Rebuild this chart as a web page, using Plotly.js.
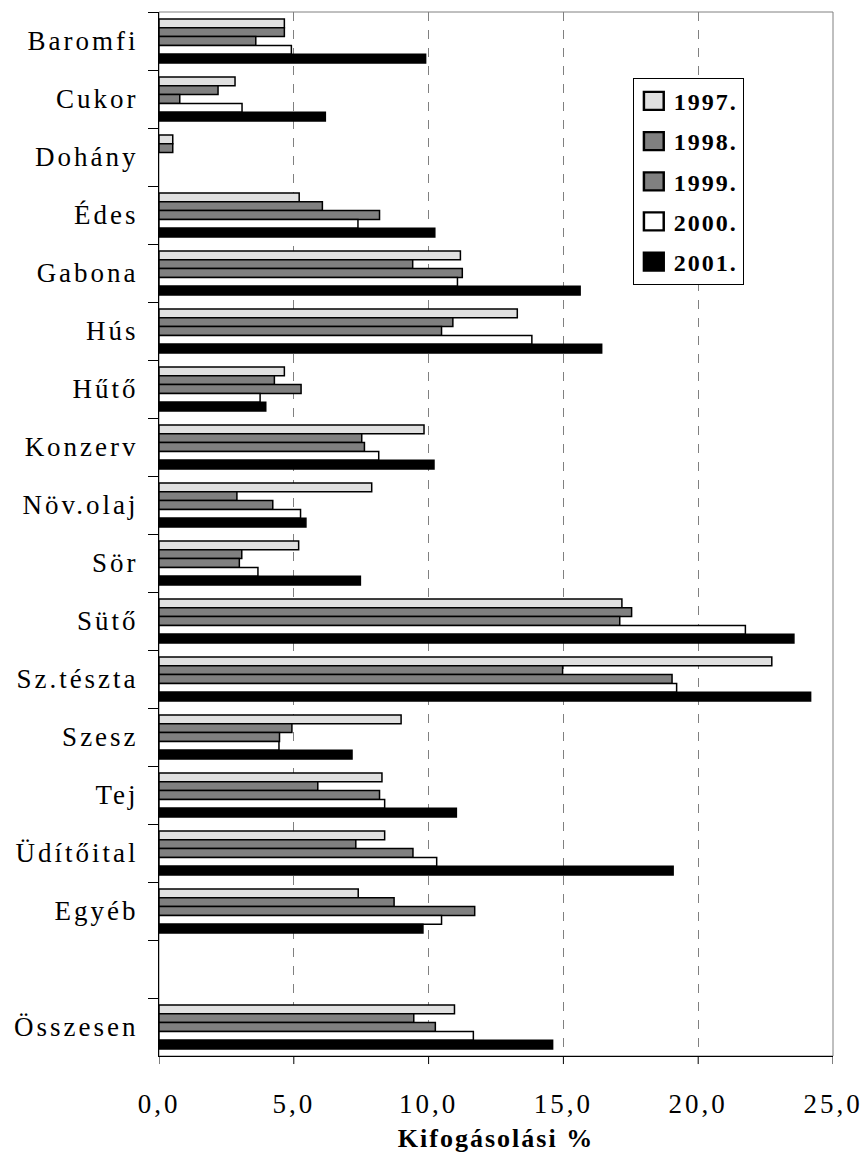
<!DOCTYPE html>
<html>
<head>
<meta charset="utf-8">
<script src="https://cdn.plot.ly/plotly-3.0.1.min.js"></script>
<style>
html, body { margin: 0; padding: 0; background: #fff; }
.ytick text, .xtick text { letter-spacing: 3px; }
.legendtext { letter-spacing: 2px; }
.xtitle { letter-spacing: 2px; }
</style>
</head>
<body>
<div id="chart" style="width:863px;height:1154px;"></div>
<script>
// Categories (top to bottom); " " is the empty slot before the total
var categories = ["Baromfi", "Cukor", "Dohány", "Édes", "Gabona", "Hús", "Hűtő", "Konzerv",
  "Növ.olaj", "Sör", "Sütő", "Sz.tészta", "Szesz", "Tej", "Üdítőital", "Egyéb", " ", "Összesen"];

var seriesNames = ["1997.", "1998.", "1999.", "2000.", "2001."];

var v1997 = [4.65, 2.82, 0.51, 5.20, 11.18, 13.29, 4.65, 9.83, 7.89, 5.18, 17.17, 22.73, 8.98, 8.27, 8.37, 7.39, null, 10.96];
var v1998 = [4.65, 2.19, 0.51, 6.06, 9.41, 10.90, 4.28, 7.52, 2.89, 3.07, 17.53, 14.97, 4.93, 5.89, 7.30, 8.72, null, 9.45];
var v1999 = [3.59, 0.77, null, 8.18, 11.25, 10.48, 5.27, 7.62, 4.22, 2.98, 17.09, 19.03, 4.47, 8.18, 9.42, 11.71, null, 10.25];
var v2000 = [4.91, 3.08, null, 7.38, 11.07, 13.83, 3.75, 8.15, 5.25, 3.67, 21.75, 19.20, 4.45, 8.37, 10.30, 10.48, null, 11.66];
var v2001 = [9.89, 6.17, null, 10.23, 15.62, 16.42, 3.96, 10.20, 5.45, 7.47, 23.55, 24.17, 7.16, 11.03, 19.07, 9.79, null, 14.60];

var xTickVals = [0, 5, 10, 15, 20, 25];

var seriesValues = [v1997, v1998, v1999, v2000, v2001];
var seriesColors = ["#e0e0e0", "#808080", "#808080", "#ffffff", "#000000"];

var traces = seriesValues.map(function (vals, i) {
  return {
    type: "bar",
    orientation: "h",
    name: "<b>" + seriesNames[i] + "</b>",
    legendgroup: "g" + i,
    y: categories,
    x: vals,
    marker: { color: seriesColors[i], line: { color: "#000000", width: 1.5 } },
    hoverinfo: "x+y+name"
  };
});

// plot frame (gray) plus short visible x tick marks at the tick values
var shapes = [{
  type: "rect", xref: "paper", yref: "paper", x0: 0, x1: 1, y0: 0, y1: 1,
  line: { color: "#808080", width: 1 }, layer: "below"
}];
xTickVals.forEach(function (v) {
  shapes.push({
    type: "line", xref: "x", yref: "paper", x0: v, x1: v, y0: 0, y1: -0.0077,
    line: { color: "#000000", width: 1 }, layer: "above"
  });
});

var layout = {
  width: 863,
  height: 1154,
  margin: { l: 159, r: 30, t: 12, b: 98, pad: 0 },
  paper_bgcolor: "#ffffff",
  plot_bgcolor: "#ffffff",
  separators: ", ",
  font: { family: "Liberation Serif", color: "#000000" },
  barmode: "group",
  bargap: 0.24,
  bargroupgap: 0,
  showlegend: true,
  legend: {
    x: 0.703, y: 0.937, xanchor: "left", yanchor: "top",
    bgcolor: "#ffffff", bordercolor: "#000000", borderwidth: 1,
    font: { family: "Liberation Serif", size: 24, color: "#000000" },
    tracegroupgap: 6,
    traceorder: "grouped"
  },
  xaxis: {
    range: [0, 25],
    tickvals: xTickVals,
    tickformat: ".1f",
    ticks: "outside", ticklen: 24, tickcolor: "rgba(0,0,0,0)", tickwidth: 1,
    showline: true, linecolor: "#000000", linewidth: 1,
    showgrid: true, gridcolor: "#808080", griddash: "dash", gridwidth: 1,
    zeroline: false,
    tickfont: { family: "Liberation Serif", size: 27, color: "#000000" },
    title: { text: "<b>Kifogásolási %</b>", font: { family: "Liberation Serif", size: 26, color: "#000000" }, standoff: 10 },
    fixedrange: true
  },
  yaxis: {
    type: "category",
    categoryorder: "array",
    categoryarray: categories,
    autorange: "reversed",
    ticks: "outside", ticklen: 10, tickcolor: "#000000", tickwidth: 1,
    tickson: "boundaries",
    showline: true, linecolor: "#000000", linewidth: 1,
    showgrid: false, zeroline: false,
    tickfont: { family: "Liberation Serif", size: 27, color: "#000000" },
    ticklabelstandoff: 14,
    fixedrange: true
  },
  shapes: shapes
};

Plotly.newPlot("chart", traces, layout, { displayModeBar: false, staticPlot: true }).then(function () {
  document.querySelectorAll("#chart .legend .legendpoints path").forEach(function (p) {
    var t = p.getAttribute("transform") || "";
    p.setAttribute("transform", t + " scale(1.65,1.5)");
  });
});
</script>
</body>
</html>
